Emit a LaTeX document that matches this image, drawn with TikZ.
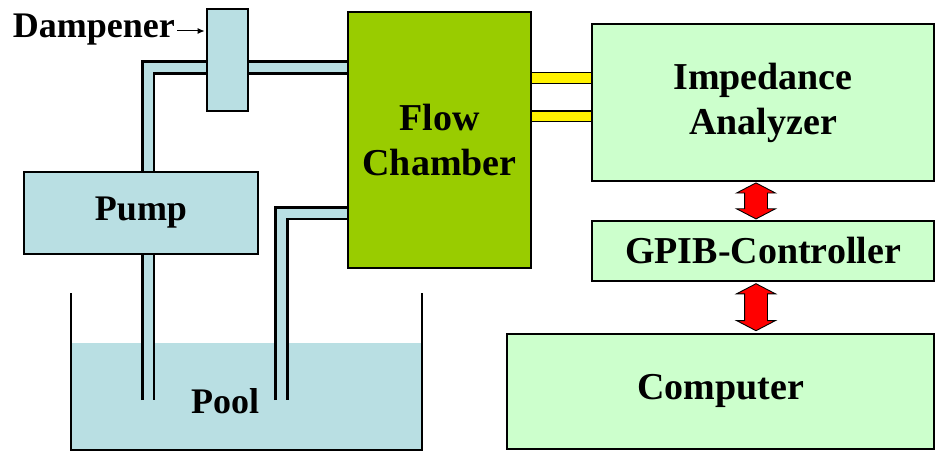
\documentclass[tikz,border=0pt]{standalone}
\usepackage{fontspec}
\setmainfont{Liberation Serif}
\usetikzlibrary{arrows.meta,positioning,calc,shapes.arrows,backgrounds}
\definecolor{pipeblue}{HTML}{B9DFE3}
\definecolor{chambergreen}{HTML}{99CC00}
\definecolor{lightgreen}{HTML}{CCFFCC}

\begin{document}
\begin{tikzpicture}[
  x=1pt,y=-1pt,
  font=\fontsize{38}{45}\selectfont\bfseries,
  smallfont/.style={font=\fontsize{36}{42}\selectfont\bfseries},
  box/.style={draw,line width=1.8pt,align=center,inner sep=0pt},
  bluebox/.style={box,fill=pipeblue,smallfont},
  greenbox/.style={box,fill=lightgreen},
  pipe/.style={draw=black,line width=2.6pt,double=pipeblue,double distance=9pt,line join=miter},
  cable/.style={draw=black,line width=1.6pt,double=yellow,double distance=9pt},
  link/.style={double arrow,draw=black,fill=red,line width=0.9pt,rotate=90,
               inner sep=0pt,text height=22pt,text depth=0pt,
               double arrow head extend=8pt,double arrow tip angle=125},
  ptr/.style={-{Latex[length=7pt,width=6pt]},line width=1pt}
]
\useasboundingbox (0,0) rectangle (937,452);

% left side: pump, dampener, chamber
\node[box,fill=chambergreen,minimum width=183pt,minimum height=256pt] (flow) at (439.5,140) {Flow\\Chamber};
\node[bluebox,minimum width=234pt,minimum height=82pt] (pump) at (141,213) {Pump};
\node[bluebox,minimum width=41pt,minimum height=102pt] (dampener) at (227.5,60) {};
\node[smallfont,anchor=base east,inner sep=0pt] (damptext) at (175,38) {Dampener};
\draw[ptr,shorten >=1.5pt] ([xshift=2pt,yshift=7pt]damptext.base east) -- ([yshift=7pt]damptext.base east -| dampener.west);

% right side: measurement chain
\node[greenbox,minimum width=342pt,minimum height=157pt] (analyzer) at (763,102.5) {Impedance\\Analyzer};
\node[greenbox,minimum width=342pt,minimum height=60pt,below=38pt of analyzer] (gpib) {GPIB-Controller};
\node[greenbox,minimum width=427pt,minimum height=115pt,below left=51pt and 0pt of gpib.south east] (computer) {Computer};
\node[link,minimum height=36pt] (link1) at ($(analyzer.south)!0.5!(gpib.north)+(-7,0)$) {};
\node[link,minimum height=47pt] (link2) at ($(gpib.south)!0.5!(gpib.south |- computer.north)+(-7,0)$) {};

% pool
\node[smallfont,anchor=base,inner sep=0pt] (pool) at (225,413) {Pool};
\draw[line width=2.8pt,line join=miter] (71,293) |- (422,450) -- (422,293);

\begin{scope}[on background layer]
  \fill[pipeblue] (71,343) rectangle (422,450);
  \coordinate (endA) at (148,400);
  \coordinate (bendA) at (148,67.5);
  \coordinate (endB) at (281.5,400);
  \coordinate (bendB) at (281.5,213);
  \draw[pipe] (endA) -- (bendA) -- (bendA -| flow.west);
  \draw[pipe] (endB) -- (bendB) -- (bendB -| flow.west);
  \foreach \s in {24.5,-13.5}
    \draw[cable] ([yshift=\s pt]analyzer.west) -- ([yshift=\s pt]analyzer.west -| flow.east);
\end{scope}
\end{tikzpicture}
\end{document}
